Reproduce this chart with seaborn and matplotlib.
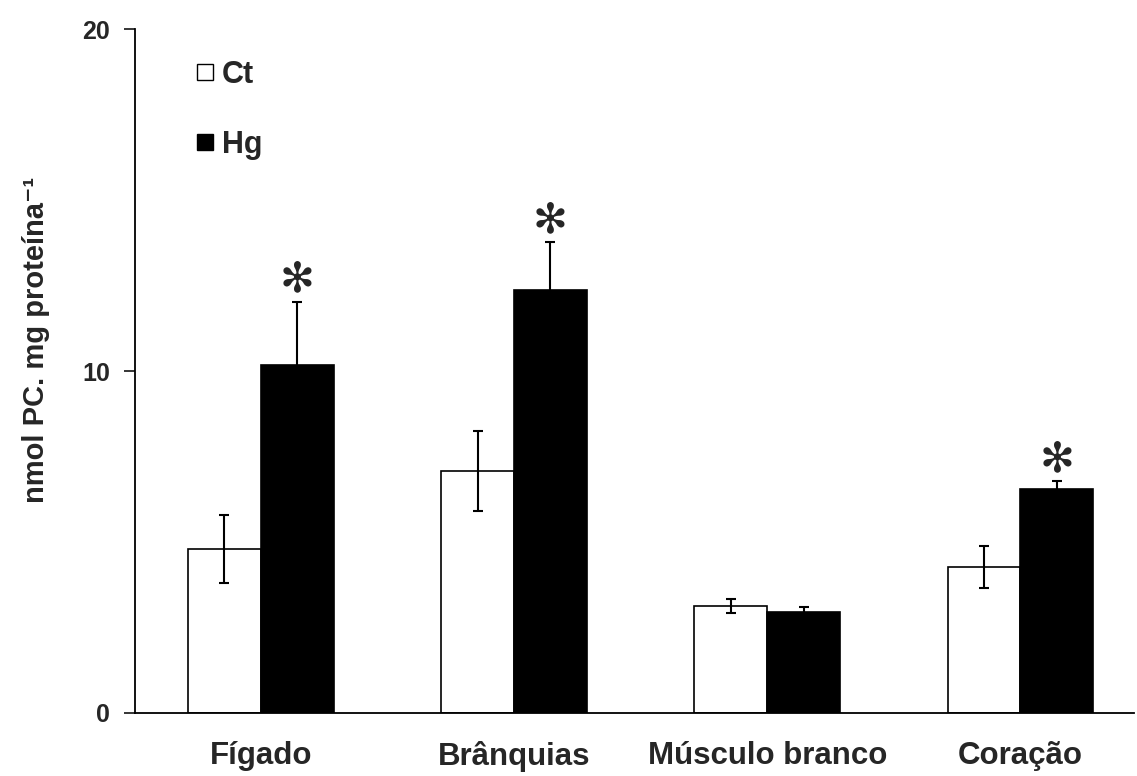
import seaborn as sns
import pandas as pd
import matplotlib.pyplot as plt
from matplotlib.lines import Line2D

tecidos = ["Fígado", "Brânquias", "Músculo branco", "Coração"]
ct_media = [4.8, 7.08, 3.13, 4.27]
ct_erro = [1.0, 1.17, 0.2, 0.62]
hg_media = [10.18, 12.37, 2.95, 6.55]
hg_erro = [1.85, 1.4, 0.15, 0.23]
significativo = [True, True, False, True]

df = pd.DataFrame({
    "tecido": tecidos * 2,
    "grupo": ["Ct"] * 4 + ["Hg"] * 4,
    "valor": ct_media + hg_media,
    "erro": ct_erro + hg_erro,
})

sns.set_style("white")
plt.rcParams["font.family"] = ["Liberation Sans", "DejaVu Sans"]
plt.rcParams["font.weight"] = "bold"

fig = plt.figure(figsize=(11.37, 7.76), dpi=100)
ax = fig.add_axes([0.1187, 0.0812, 0.879, 0.8814])

sns.barplot(data=df, x="tecido", y="valor", hue="grupo",
            palette={"Ct": "white", "Hg": "black"}, edgecolor="black",
            linewidth=1.2, width=0.575, gap=0, errorbar=None, ax=ax,
            legend=False)

# barras de erro a partir das barras desenhadas
barras = ax.patches[:8]
for b, (_, row) in zip(barras, df.iterrows()):
    xc = b.get_x() + b.get_width() / 2
    ax.errorbar(xc, row["valor"], yerr=row["erro"], fmt="none",
                ecolor="black", elinewidth=1.5, capsize=3.5, capthick=1.5)

# asteriscos
for b, (_, row) in zip(barras[4:], df.iloc[4:].iterrows()):
    if significativo[tecidos.index(row["tecido"])]:
        xc = b.get_x() + b.get_width() / 2
        ax.text(xc, row["valor"] + row["erro"] + 0.03, "✻",
                ha="center", va="bottom", fontsize=30,
                family=["DejaVu Sans"], fontweight="normal")

ax.set_xlim(-0.497, 3.45)
ax.set_ylim(0, 20)
ax.set_yticks([0, 10, 20])
ax.set_xlabel("")
ax.set_ylabel("nmol PC. mg proteína⁻¹", fontsize=21, fontweight="bold")
ax.yaxis.set_label_coords(-0.085, 0.545)
ax.tick_params(axis="y", direction="out", length=8, width=1.3,
               labelsize=18, pad=10, left=True)
ax.tick_params(axis="x", length=0, labelsize=22.5, pad=20)
for t in ax.get_xticklabels() + ax.get_yticklabels():
    t.set_fontweight("bold")

for s in ["top", "right"]:
    ax.spines[s].set_visible(False)
for s in ["left", "bottom"]:
    ax.spines[s].set_color("black")
    ax.spines[s].set_linewidth(1.3)

handles = [Line2D([], [], marker="s", linestyle="none", markersize=11.5,
                  markerfacecolor=c, markeredgecolor="black",
                  markeredgewidth=1)
           for c in ["white", "black"]]
ax.legend(handles, ["Ct", "Hg"], loc="upper left",
          bbox_to_anchor=(0.027, 0.995), frameon=False,
          labelspacing=1.3, handletextpad=0.05, handlelength=1.0,
          prop={"weight": "bold", "size": 22})

fig.savefig("out.png", dpi=100)
